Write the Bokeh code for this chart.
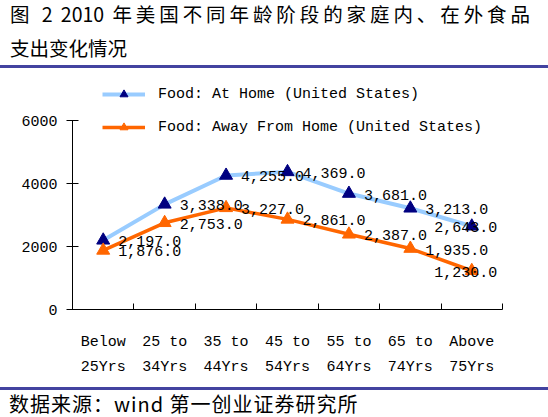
from bokeh.plotting import figure
from bokeh.layouts import column
from bokeh.models import Div, FixedTicker, Legend, LegendItem
from bokeh.core.properties import value
from bokeh.embed import file_html
from bokeh.resources import INLINE

# ---- data ----
categories = ["Below\n25Yrs", "25 to\n34Yrs", "35 to\n44Yrs", "45 to\n54Yrs",
              "55 to\n64Yrs", "65 to\n74Yrs", "Above\n75Yrs"]
at_home = [2197, 3338, 4255, 4369, 3681, 3213, 2643]
away_home = [1876, 2753, 3227, 2861, 2387, 1935, 1230]
y_ticks = [0, 2000, 4000, 6000]
series_names = ["Food: At Home (United States)", "Food: Away From Home (United States)"]
title_line1 = "图 2 2010 年美国不同年龄阶段的家庭内、在外食品"
title_line2 = "支出变化情况"
source_text = "数据来源：wind 第一创业证券研究所"

FONT = "Liberation Mono"
FS = "15px"
PURPLE = "#4343A0"
BLUE_LINE = "#99CCFF"
NAVY = "#000080"
ORANGE = "#FF6600"

xs = [i + 0.5 for i in range(len(categories))]
bounds = [float(i) for i in range(1, len(categories) + 1)]

# layout (pixels)
FIG_H = 319
BORDER_TOP = 2
BORDER_BOTTOM = 78
AXIS_PX = 189  # pixel height of 0..6000
frame_h = FIG_H - BORDER_TOP - BORDER_BOTTOM
y_top = y_ticks[-1] * frame_h / AXIS_PX

title_div = Div(
    text=(f'<div style="position:relative; top:-3px; font-family:\'Noto Sans CJK SC\'; '
          f'font-size:19.5px; color:#000; line-height:34px; width:530px; padding-left:10px;">'
          f'<div style="text-align:justify; text-align-last:justify;">{title_line1}</div>'
          f'<div>{title_line2}</div></div>'),
    width=548, height=68, margin=(0, 0, 0, 0),
    styles={"border-bottom": f"3px solid {PURPLE}", "overflow": "visible",
            "box-sizing": "border-box"},
)

p = figure(width=548, height=FIG_H, x_range=(0, len(categories)), y_range=(0, y_top),
           output_backend="svg", toolbar_location=None, tools="")
p.min_border_left = 72
p.min_border_right = 46
p.min_border_top = BORDER_TOP
p.min_border_bottom = BORDER_BOTTOM
p.outline_line_color = None
p.xgrid.grid_line_color = None
p.ygrid.grid_line_color = None
p.background_fill_color = "white"
p.border_fill_color = "white"

# y axis
p.yaxis.ticker = FixedTicker(ticks=y_ticks)
p.yaxis.bounds = (y_ticks[0], y_ticks[-1])
p.yaxis.major_tick_in = 6
p.yaxis.major_tick_out = 6
p.yaxis.minor_tick_line_color = None
p.yaxis.axis_line_color = "black"
p.yaxis.major_tick_line_color = "black"
p.yaxis.major_label_text_font = FONT
p.yaxis.major_label_text_font_size = FS
p.yaxis.major_label_text_color = "black"
p.yaxis.major_label_standoff = 9

# x axis: labels at centres, tick marks at category boundaries
p.xaxis.ticker = FixedTicker(ticks=xs, minor_ticks=bounds)
p.xaxis.major_label_overrides = {x: c for x, c in zip(xs, categories)}
p.xaxis.major_tick_line_color = None
p.xaxis.major_tick_in = 0
p.xaxis.major_tick_out = 0
p.xaxis.minor_tick_in = 6
p.xaxis.minor_tick_out = 0
p.xaxis.minor_tick_line_color = "black"
p.xaxis.axis_line_color = "black"
p.xaxis.major_label_text_font = FONT
p.xaxis.major_label_text_font_size = FS
p.xaxis.major_label_text_color = "black"
p.xaxis.major_label_text_line_height = 1.5
p.xaxis.major_label_standoff = 24

# series
l1 = p.line(xs, at_home, line_color=BLUE_LINE, line_width=4)
m1 = p.scatter(xs, at_home, marker="triangle", size=13, fill_color=NAVY, line_color=NAVY)
l2 = p.line(xs, away_home, line_color=ORANGE, line_width=3.5)
m2 = p.scatter(xs, away_home, marker="triangle", size=13, fill_color=ORANGE, line_color=ORANGE)

# data labels
for vals in (at_home, away_home):
    labels = [f"{v:,.1f}" for v in vals]
    p.text(xs[:-1], vals[:-1], text=labels[:-1], x_offset=15, y_offset=1,
           text_align="left", text_baseline="middle",
           text_font=value(FONT), text_font_size=FS, text_color="black")
    p.text(xs[-1:], vals[-1:], text=labels[-1:], x_offset=-6, y_offset=1,
           text_align="center", text_baseline="middle",
           text_font=value(FONT), text_font_size=FS, text_color="black")

legend = Legend(items=[LegendItem(label=series_names[0], renderers=[l1, m1]),
                       LegendItem(label=series_names[1], renderers=[l2, m2])],
                location=(30, 172), orientation="vertical")
legend.border_line_color = None
legend.background_fill_alpha = 0
legend.padding = 0
legend.margin = 0
legend.glyph_width = 43
legend.glyph_height = 20
legend.label_height = 20
legend.spacing = 13
legend.label_standoff = 13
legend.label_text_font = FONT
legend.label_text_font_size = FS
legend.label_text_color = "black"
p.add_layout(legend)

source_div = Div(
    text=(f'<div style="font-family:\'Noto Sans CJK SC\'; font-size:20px; color:#000; '
          f'line-height:27px; padding-left:9px; letter-spacing:1px; white-space:nowrap;">'
          f'{source_text}</div>'),
    width=548, height=30, margin=(0, 0, 0, 0),
    styles={"border-top": f"3px solid {PURPLE}", "overflow": "visible",
            "box-sizing": "border-box"},
)

layout = column(title_div, p, source_div, spacing=0)

open("out.html", "w").write(file_html(layout, INLINE))
